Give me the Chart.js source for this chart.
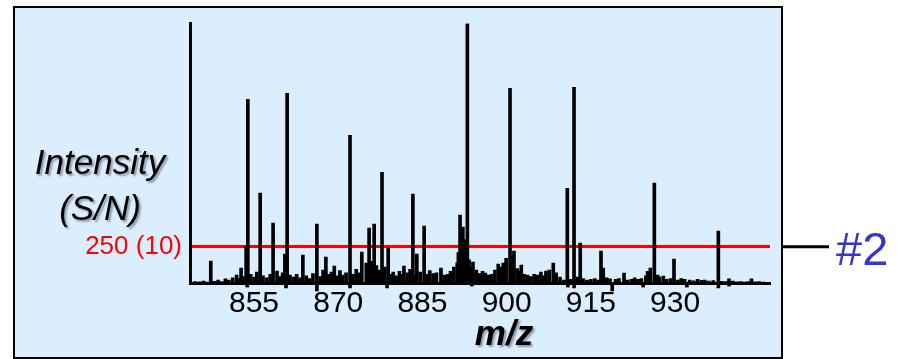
<!DOCTYPE html>
<html>
<head>
<meta charset="utf-8">
<script src="https://cdn.jsdelivr.net/npm/chart.js@4/dist/chart.umd.min.js"></script>
<style>
  html, body { margin: 0; padding: 0; background: #fff; }
  canvas { display: block; }
</style>
</head>
<body>
<canvas id="spectrumChart" width="903" height="359"></canvas>
<script>
// tick labels on the m/z axis
const xTicks = [855, 870, 885, 900, 915, 930];

// threshold line: 250 counts = S/N 10
const threshold = 250;
const thresholdLabel = '250 (10)';

// peaks (m/z, intensity)
const peakMz  = [847.3, 852.7, 853.6, 853.9, 856.1, 858.4, 859.1, 860.5, 860.9, 863.7,
                 866.2, 867.8, 869.3, 872.1, 874.2, 875.0, 875.5, 876.4, 877.8, 878.9,
                 881.7, 883.3, 884.0, 885.3, 888.3, 891.7, 892.2, 893.0, 894.0, 896.2,
                 899.4, 900.6, 901.3, 902.6, 907.0, 908.3, 910.8, 912.0, 913.1, 916.8,
                 917.2, 920.9, 925.6, 926.3, 927.9, 929.8, 937.7, 939.6, 943.6];
const peakInt = [152, 103, 255, 1267, 620, 413, 83, 200, 1309, 193,
                 406, 179, 117, 1019, 213, 138, 379, 406, 764, 241,
                 117, 613, 200, 393, 103, 468, 386, 1790, 145, 69,
                 138, 1343, 220, 124, 83, 138, 654, 1350, 275, 220,
                 103, 69, 103, 689, 48, 165, 358, 28, 28];

// baseline noise
const noiseMz  = [844.5, 845.3, 846.0, 846.6, 847.9, 848.6, 849.2, 849.9, 850.5, 851.2,
                  851.9, 852.3, 853.0, 854.4, 855.0, 855.5, 856.6, 857.3, 857.9, 859.6,
                  860.1, 861.4, 862.0, 862.6, 863.2, 864.3, 864.9, 865.5, 866.8, 867.3,
                  868.3, 868.8, 869.7, 870.3, 870.8, 871.4, 872.6, 873.2, 873.7, 875.9,
                  876.8, 877.3, 878.3, 879.3, 879.8, 880.3, 880.9, 881.2, 882.3, 882.8,
                  883.8, 884.6, 885.8, 886.3, 886.9, 887.5, 888.9, 889.5, 890.0, 890.6,
                  891.2, 891.4, 892.6, 893.3, 893.6, 894.6, 895.2, 895.7, 896.7, 897.3,
                  897.9, 898.5, 898.9, 899.9, 901.0, 901.9, 902.1, 903.1, 903.7, 904.3,
                  904.9, 905.5, 906.1, 906.6, 907.6, 908.8, 909.5, 910.2, 911.4, 912.6,
                  913.6, 914.3, 915.0, 915.7, 916.3, 917.8, 918.4, 919.4, 920.0, 921.5,
                  922.2, 922.8, 923.4, 924.0, 924.8, 925.1, 926.9, 927.2, 928.5, 929.2,
                  930.5, 931.1, 931.7, 932.6, 933.3, 934.0, 934.7, 935.3, 936.0, 936.8,
                  938.3, 939.0, 940.3, 941.0, 941.7, 942.4, 943.0, 944.3, 945.0, 945.8];
const noiseInt = [10, 8, 14, 6, 12, 20, 10, 28, 20, 35,
                  55, 30, 45, 60, 40, 75, 50, 35, 60, 45,
                  70, 55, 40, 60, 35, 50, 30, 65, 45, 90,
                  60, 75, 50, 85, 55, 70, 60, 95, 70, 150,
                  120, 90, 110, 60, 75, 50, 80, 60, 70, 95,
                  55, 75, 60, 85, 65, 70, 55, 60, 80, 110,
                  140, 210, 300, 160, 110, 90, 65, 80, 55, 60,
                  90, 130, 110, 170, 190, 100, 80, 60, 55, 45,
                  60, 55, 75, 50, 90, 70, 40, 20, 25, 40,
                  30, 20, 25, 30, 20, 35, 28, 25, 30, 20,
                  25, 35, 25, 30, 50, 80, 55, 40, 25, 30,
                  20, 30, 25, 20, 15, 25, 18, 20, 14, 16,
                  12, 10, 14, 8, 10, 6, 10, 8, 10, 6];

// small marks that poke below the baseline
const dipMz  = [853.8, 860.7, 866.2, 872.1, 878.7, 893.8, 910.9, 912.0, 918.8, 924.3, 932.1, 937.7, 939.6];
const dipInt = [-28, -34, -55, -34, -34, -21, -28, -34, -55, -28, -28, -34, -21];

(function(){
  const font = '"Liberation Sans", Arial, sans-serif';
  const pts = (xs, ys) => xs.map((x, i) => ({ x: x, y: ys[i] }));
  const barStyle = { barThickness: 3, backgroundColor: '#000', borderWidth: 0, grouped: false };

  // frame, axis captions and the "#2" marker
  const decor = {
    id: 'decor',
    beforeDraw(chart) {
      const c = chart.ctx;
      c.save();
      c.fillStyle = '#fff';
      c.fillRect(0, 0, chart.width, chart.height);
      c.fillStyle = '#daeefd';
      c.fillRect(14, 7, 768, 351);
      c.strokeStyle = '#000';
      c.lineWidth = 2;
      c.strokeRect(14, 7, 768, 351);
      c.restore();
    },
    afterDraw(chart) {
      const c = chart.ctx;
      const yLine = chart.scales.y.getPixelForValue(threshold);
      c.save();
      c.shadowColor = 'rgba(0,0,0,0.35)';
      c.shadowOffsetX = 2;
      c.shadowOffsetY = 2;
      c.shadowBlur = 2;
      c.fillStyle = '#000';
      c.textAlign = 'center';
      c.textBaseline = 'alphabetic';
      c.font = 'italic 35px ' + font;
      c.fillText('Intensity', 100, 174);
      c.fillText('(S/N)', 100, 220);
      c.font = 'italic bold 35px ' + font;
      c.fillText('m/z', 504, 345);
      c.restore();

      c.save();
      c.strokeStyle = '#000';
      c.lineWidth = 3;
      c.beginPath();
      c.moveTo(783, yLine);
      c.lineTo(829, yLine);
      c.stroke();
      c.fillStyle = '#3535c8';
      c.font = '47px ' + font;
      c.textAlign = 'left';
      c.textBaseline = 'alphabetic';
      c.fillText('#2', 836, 265);
      c.restore();
    }
  };

  const el = document.getElementById('spectrumChart');
  new Chart(el.getContext('2d'), {
    type: 'bar',
    data: {
      datasets: [
        Object.assign({ data: pts(noiseMz, noiseInt) }, barStyle),
        Object.assign({ data: pts(peakMz, peakInt) }, barStyle),
        Object.assign({ data: pts(dipMz, dipInt), clip: false }, barStyle)
      ]
    },
    options: {
      responsive: false,
      animation: false,
      devicePixelRatio: 1,
      layout: { padding: { top: 23, right: 133, left: 0, bottom: 0 } },
      plugins: { legend: { display: false }, tooltip: { enabled: false } },
      scales: {
        x: {
          type: 'linear', min: 843.6, max: 946.9, offset: false,
          afterBuildTicks: s => { s.ticks = xTicks.map(v => ({ value: v })); },
          afterFit: s => { s.height = 76; },
          grid: { display: false, drawTicks: false },
          border: { display: true, color: '#000', width: 3 },
          ticks: { color: '#000', font: { family: font, size: 30 }, padding: 3, maxRotation: 0, autoSkip: false }
        },
        y: {
          min: 0, max: 1790,
          afterBuildTicks: s => { s.ticks = [{ value: threshold }]; },
          afterFit: s => { s.width = 190; },
          grid: { color: '#ff0000', lineWidth: 3, drawTicks: false },
          border: { color: '#000', width: 3 },
          ticks: { color: '#ff0000', font: { family: font, size: 26 }, padding: 8, callback: () => thresholdLabel }
        }
      }
    },
    plugins: [decor]
  });
})();
</script>
</body>
</html>
